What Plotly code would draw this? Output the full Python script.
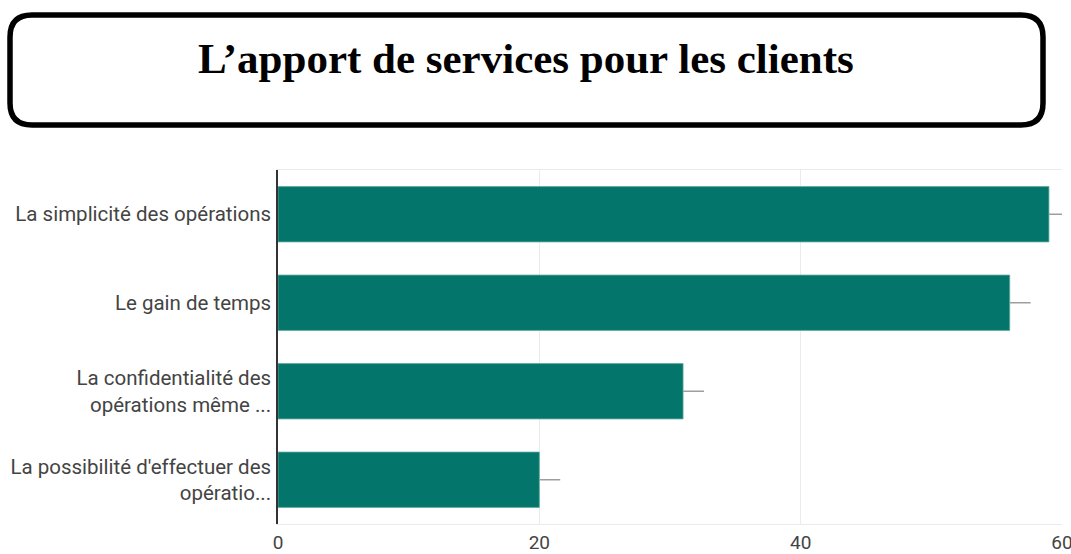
import plotly.graph_objects as go

# Survey answers and response counts
categories = [
    "La simplicité des opérations",
    "Le gain de temps",
    "La confidentialité des<br>opérations même ...",
    "La possibilité d'effectuer des<br>opératio...",
]
counts = [59, 56, 31, 20]
spread = [1.6, 1.6, 1.6, 1.6]
x_ticks = [0, 20, 40, 60]

W, H = 1071, 554
ML, MR, MT, MB = 278, 9, 170, 30
PW, PH = W - ML - MR, H - MT - MB


def px(x):
    return (x - ML) / PW


def py(y):
    return (H - MB - y) / PH


def rounded_rect(x0, y0, x1, y1, r):
    pts = [
        f"M {px(x0 + r)} {py(y0)}",
        f"L {px(x1 - r)} {py(y0)}",
        f"Q {px(x1)} {py(y0)} {px(x1)} {py(y0 + r)}",
        f"L {px(x1)} {py(y1 - r)}",
        f"Q {px(x1)} {py(y1)} {px(x1 - r)} {py(y1)}",
        f"L {px(x0 + r)} {py(y1)}",
        f"Q {px(x0)} {py(y1)} {px(x0)} {py(y1 - r)}",
        f"L {px(x0)} {py(y0 + r)}",
        f"Q {px(x0)} {py(y0)} {px(x0 + r)} {py(y0)}",
        "Z",
    ]
    return " ".join(pts)


fig = go.Figure(
    go.Bar(
        x=counts,
        y=categories,
        orientation="h",
        marker=dict(color="#03756b", line=dict(color="#5fa9a0", width=0.8)),
        error_x=dict(
            type="data",
            symmetric=False,
            array=spread,
            arrayminus=[0] * len(spread),
            color="#9e9e9e",
            thickness=1.5,
            width=0,
        ),
    )
)

fig.update_layout(
    width=W,
    height=H,
    margin=dict(l=ML, r=MR, t=MT, b=MB, pad=0),
    paper_bgcolor="white",
    plot_bgcolor="white",
    showlegend=False,
    bargap=0.375,
    font=dict(family="Roboto, Arial, sans-serif", size=20, color="#444"),
    xaxis=dict(
        range=[0, 60],
        tickvals=x_ticks,
        ticktext=[str(t) for t in x_ticks],
        showgrid=True,
        gridcolor="#ebebeb",
        gridwidth=1,
        zeroline=False,
        showline=True,
        mirror=True,
        linecolor="#ebebeb",
        linewidth=1,
        ticks="",
        ticklabelstandoff=1,
        ticklabeloverflow="allow",
        tickfont=dict(size=19, color="#444"),
        automargin=False,
        fixedrange=True,
    ),
    yaxis=dict(
        categoryorder="array",
        categoryarray=categories,
        autorange="reversed",
        showline=True,
        linecolor="#333",
        linewidth=1.5,
        showgrid=False,
        ticks="",
        ticklabelstandoff=1,
        tickfont=dict(size=20.5, color="#444"),
        automargin=False,
        fixedrange=True,
    ),
    shapes=[
        dict(
            type="path",
            xref="paper",
            yref="paper",
            path=rounded_rect(10, 15, 1043, 125, 22),
            line=dict(color="black", width=5.5),
            fillcolor="rgba(0,0,0,0)",
            layer="above",
        )
    ],
    annotations=[
        dict(
            text="<b>L’apport de services pour les clients</b>",
            xref="paper",
            yref="paper",
            x=px(526),
            y=py(58),
            xanchor="center",
            yanchor="middle",
            showarrow=False,
            font=dict(family="Liberation Serif, Times New Roman, serif", size=43, color="black"),
        )
    ],
)

fig.write_html("out.html")
